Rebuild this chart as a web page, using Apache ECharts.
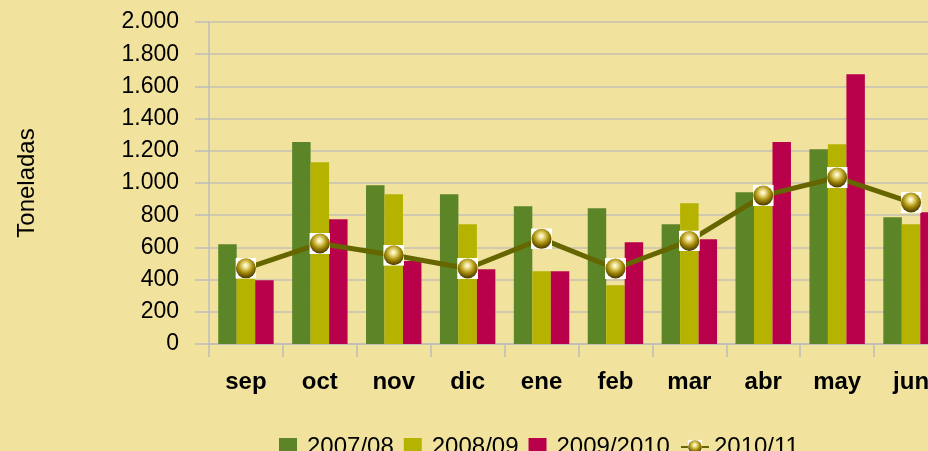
<!DOCTYPE html>
<html>
<head>
<meta charset="utf-8">
<script src="https://cdn.jsdelivr.net/npm/echarts@6/dist/echarts.min.js"></script>
<style>
  html, body { margin: 0; padding: 0; background: #F1E39E; }
  #chart { width: 928px; height: 451px; }
</style>
</head>
<body>
<div id="chart"></div>
<script>
// datos (toneladas por mes)
const categories = ['sep', 'oct', 'nov', 'dic', 'ene', 'feb', 'mar', 'abr', 'may', 'jun']
const serie0708 = [620, 1254, 986, 930, 856, 843, 744, 943, 1210, 787]
const serie0809 = [450, 1129, 930, 744, 452, 365, 874, 900, 1241, 744]
const serie0910 = [396, 775, 515, 464, 452, 632, 651, 1254, 1676, 819]
const serie1011 = [470, 624, 551, 469, 653, 469, 640, 922, 1034, 879]
const seriesNames = ['2007/08', '2008/09', '2009/2010', '2010/11']

// esfera dorada sobre cuadro blanco
const sphereSvg =
  "<svg xmlns='http://www.w3.org/2000/svg' width='21' height='21'>" +
  "<defs><radialGradient id='g' cx='0.48' cy='0.36' r='0.62'>" +
  "<stop offset='0' stop-color='#ffffff'/>" +
  "<stop offset='0.22' stop-color='#eee08a'/>" +
  "<stop offset='0.6' stop-color='#a58c08'/>" +
  "<stop offset='1' stop-color='#4e3c00'/>" +
  "</radialGradient></defs>" +
  "<rect width='21' height='21' fill='#ffffff'/>" +
  "<circle cx='10.5' cy='10.5' r='10' fill='url(#g)'/></svg>"
const sphere = 'image://data:image/svg+xml;charset=utf-8,' + encodeURIComponent(sphereSvg)
const square = 'path://M0,0h10v10h-10z'

const fmtMiles = (v) => String(v).replace(/\B(?=(\d{3})+(?!\d))/g, '.')

const chart = echarts.init(document.getElementById('chart'))

const barSeries = (name, data, color) => ({
  name: name,
  type: 'bar',
  data: data,
  barGap: '0%',
  barCategoryGap: '25%',
  itemStyle: { color: color }
})

const option = {
  backgroundColor: '#F1E39E',
  animation: false,
  textStyle: { fontFamily: 'Liberation Sans, Arial, sans-serif' },
  grid: {
    left: 209,
    top: 22,
    width: 739,
    height: 322,
    containLabel: false,
    outerBoundsMode: 'none'
  },
  legend: {
    left: 274,
    top: 430,
    itemWidth: 28,
    itemHeight: 18,
    itemGap: 10,
    symbolKeepAspect: true,
    textStyle: { fontSize: 24, color: '#000', fontFamily: 'Liberation Sans, Arial, sans-serif' },
    data: [
      { name: seriesNames[0], icon: square },
      { name: seriesNames[1], icon: square },
      { name: seriesNames[2], icon: square },
      { name: seriesNames[3] }
    ]
  },
  xAxis: {
    type: 'category',
    data: categories,
    axisLine: { lineStyle: { color: '#BDBDBD', width: 1.5 } },
    axisTick: { show: true, length: 13, lineStyle: { color: '#BDBDBD', width: 1.5 } },
    axisLabel: {
      margin: 26,
      fontSize: 24,
      fontWeight: 'bold',
      color: '#000'
    }
  },
  yAxis: {
    type: 'value',
    min: 0,
    max: 2000,
    interval: 200,
    name: 'Toneladas',
    nameLocation: 'middle',
    nameGap: 170,
    nameRotate: 90,
    nameTextStyle: { fontSize: 24, color: '#000' },
    axisLine: { show: true, lineStyle: { color: '#BDBDBD', width: 1.5 } },
    axisTick: { show: true, length: 14, lineStyle: { color: '#BDBDBD', width: 1.5 } },
    axisLabel: {
      margin: 30,
      fontSize: 23,
      color: '#000',
      formatter: fmtMiles
    },
    splitLine: { lineStyle: { color: '#C4C1B2', width: 1.5 } }
  },
  series: [
    barSeries(seriesNames[0], serie0708, '#5B8527'),
    barSeries(seriesNames[1], serie0809, '#B5B300'),
    barSeries(seriesNames[2], serie0910, '#B9004B'),
    {
      name: seriesNames[3],
      type: 'line',
      data: serie1011,
      symbol: sphere,
      symbolSize: 21,
      z: 5,
      itemStyle: { color: '#666600' },
      lineStyle: { color: '#666600', width: 5 }
    }
  ]
}

chart.setOption(option)
</script>
</body>
</html>
